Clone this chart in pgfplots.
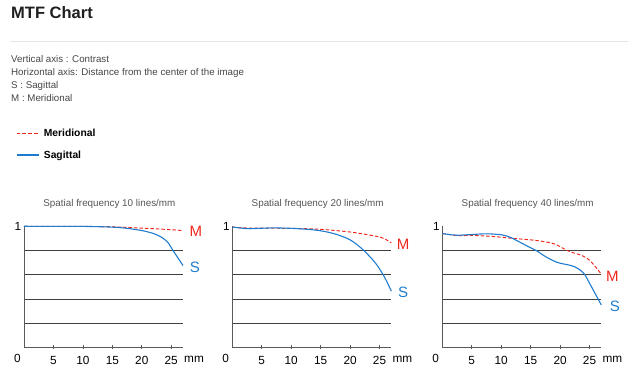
\documentclass[border=0pt]{standalone}
\usepackage{pgfplots}
\pgfplotsset{compat=1.18}
\usepackage{fontspec}
\setmainfont{Liberation Sans}
\definecolor{mred}{RGB}{240,38,28}
\definecolor{mblue}{RGB}{30,124,206}
\definecolor{txtgray}{RGB}{70,70,70}
\definecolor{ttlgray}{RGB}{85,85,85}
\pgfplotsset{
  mtf/.style={
    scale only axis, width=159pt, height=121pt,
    xmin=0, xmax=27, ymin=0, ymax=1,
    axis x line=bottom, axis y line=left,
    axis line style={-, draw=black!65, line width=0.8pt},
    xtick={5,10,15,20,25}, xticklabels={5,10,15,20,25},
    tick align=center, major tick length=4pt,
    xtick style={draw=black!65, line width=0.6pt},
    ytick={0.2,0.4,0.6,0.8}, yticklabels={}, ytick style={draw=none},
    ymajorgrids, grid style={draw=black!75, line width=0.7pt},
    xticklabel style={font=\fontsize{11.8}{11.8}\selectfont, anchor=base, yshift=-15.5pt, inner sep=0pt},
    clip=false,
  },
  S/.style={mblue, line width=1.1pt, smooth},
  M/.style={mred, line width=0.95pt, dash pattern=on 3.5pt off 2pt, smooth},
}
\begin{document}
\begin{tikzpicture}
\useasboundingbox (0,0) rectangle (635pt,-379pt);
% header
\node[anchor=base west, inner sep=0pt, font=\fontsize{16.5}{16.5}\bfseries\selectfont, text=black!88] at (11pt,-18.3pt) {MTF Chart};
\draw[black!10, line width=0.6pt] (10pt,-41pt) -- (628pt,-41pt);
\begin{scope}[every node/.style={anchor=base west, inner sep=0pt, font=\fontsize{9.75}{9.75}\selectfont, text=txtgray}]
\node at (11pt,-62.3pt) {Vertical axis : Contrast};
\node at (11pt,-75.3pt) {Horizontal axis: Distance from the center of the image};
\node at (11pt,-88.6pt) {S : Sagittal};
\node at (11pt,-101.9pt) {M : Meridional};
\end{scope}
\fill[mred] (16.5pt,-132.7pt) rectangle (20.1pt,-133.9pt);
\fill[mred] (22.3pt,-132.7pt) rectangle (25.9pt,-133.9pt);
\fill[mred] (28.1pt,-132.7pt) rectangle (31.7pt,-133.9pt);
\fill[mred] (33.9pt,-132.7pt) rectangle (37.5pt,-133.9pt);
\fill[mblue] (16.5pt,-154.4pt) rectangle (39pt,-155.6pt);
\node[anchor=base west, inner sep=0pt, font=\fontsize{10.3}{10.3}\bfseries\selectfont] at (43.7pt,-137pt) {Meridional};
\node[anchor=base west, inner sep=0pt, font=\fontsize{10.3}{10.3}\bfseries\selectfont] at (43.7pt,-158.7pt) {Sagittal};

% ---- panel 1
\begin{axis}[mtf, at={(24pt,-347.3pt)}, anchor=south west]
\addplot[M] coordinates {(0,1.0) (10,0.999) (15,0.996) (20,0.985) (25,0.972) (27,0.964)};
\addplot[S] coordinates {(0,1.0) (10,0.999) (15,0.993) (17.5,0.983) (20,0.965) (22,0.94) (23.5,0.905) (24.5,0.862) (25.3,0.8) (26.2,0.735) (27,0.675)};
\node[anchor=base, inner sep=0pt, font=\fontsize{11.8}{11.8}\selectfont] at (axis cs:0,0) [xshift=-6.7pt, yshift=-15.5pt] {0};
\node[anchor=base west, inner sep=0pt, font=\fontsize{11.8}{11.8}\selectfont] at (axis cs:27,0) [xshift=1pt, yshift=-15.5pt] {mm};
\node[anchor=base, inner sep=0pt, font=\fontsize{11.8}{11.8}\selectfont] at (axis cs:0,1) [xshift=-6pt, yshift=-4.5pt] {1};
\node[anchor=base, inner sep=0pt, font=\fontsize{9.85}{9.85}\selectfont, text=ttlgray] at (axis cs:14.5,1) [yshift=20pt] {Spatial frequency 10 lines/mm};
\node[mred, font=\fontsize{15}{15}\selectfont, inner sep=0pt] at (axis cs:29.2,0.961) {M};
\node[mblue, font=\fontsize{15}{15}\selectfont, inner sep=0pt] at (axis cs:29.0,0.664) {S};
\end{axis}

% ---- panel 2
\begin{axis}[mtf, at={(232.3pt,-347.3pt)}, anchor=south west]
\addplot[M] coordinates {(0,0.994) (3,0.985) (10,0.983) (15,0.975) (20,0.953) (23,0.93) (25,0.912) (26,0.893) (27,0.863)};
\addplot[S] coordinates {(0,0.994) (1.5,0.985) (3,0.98) (5,0.984) (7,0.987) (10,0.983) (12.5,0.976) (15,0.963) (17.5,0.936) (20,0.888) (22,0.815) (24,0.715) (25,0.648) (26,0.566) (27,0.465)};
\node[anchor=base, inner sep=0pt, font=\fontsize{11.8}{11.8}\selectfont] at (axis cs:0,0) [xshift=-6.7pt, yshift=-15.5pt] {0};
\node[anchor=base west, inner sep=0pt, font=\fontsize{11.8}{11.8}\selectfont] at (axis cs:27,0) [xshift=1pt, yshift=-15.5pt] {mm};
\node[anchor=base, inner sep=0pt, font=\fontsize{11.8}{11.8}\selectfont] at (axis cs:0,1) [xshift=-6pt, yshift=-4.5pt] {1};
\node[anchor=base, inner sep=0pt, font=\fontsize{9.85}{9.85}\selectfont, text=ttlgray] at (axis cs:14.5,1) [yshift=20pt] {Spatial frequency 20 lines/mm};
\node[mred, font=\fontsize{15}{15}\selectfont, inner sep=0pt] at (axis cs:29.0,0.849) {M};
\node[mblue, font=\fontsize{15}{15}\selectfont, inner sep=0pt] at (axis cs:29.0,0.458) {S};
\end{axis}

% ---- panel 3
\begin{axis}[mtf, at={(442.3pt,-347.3pt)}, anchor=south west]
\addplot[M] coordinates {(0,0.94) (1.5,0.93) (3,0.922) (5,0.925) (8,0.918) (10,0.91) (12,0.9) (15,0.888) (17.5,0.872) (19,0.855) (20,0.832) (21,0.805) (22,0.785) (23,0.77) (24,0.752) (25,0.72) (26,0.665) (27,0.605)};
\addplot[S] coordinates {(0,0.94) (1.5,0.93) (2.5,0.926) (5,0.932) (7.5,0.938) (10,0.93) (11.5,0.91) (13,0.873) (14.5,0.835) (16,0.798) (17.5,0.75) (19,0.712) (20,0.695) (21.5,0.68) (22.5,0.665) (23.5,0.635) (24.2,0.6) (25,0.53) (26,0.44) (27,0.35)};
\node[anchor=base, inner sep=0pt, font=\fontsize{11.8}{11.8}\selectfont] at (axis cs:0,0) [xshift=-6.7pt, yshift=-15.5pt] {0};
\node[anchor=base west, inner sep=0pt, font=\fontsize{11.8}{11.8}\selectfont] at (axis cs:27,0) [xshift=1pt, yshift=-15.5pt] {mm};
\node[anchor=base, inner sep=0pt, font=\fontsize{11.8}{11.8}\selectfont] at (axis cs:0,1) [xshift=-6pt, yshift=-4.5pt] {1};
\node[anchor=base, inner sep=0pt, font=\fontsize{9.85}{9.85}\selectfont, text=ttlgray] at (axis cs:14.5,1) [yshift=20pt] {Spatial frequency 40 lines/mm};
\node[mred, font=\fontsize{15}{15}\selectfont, inner sep=0pt] at (axis cs:28.9,0.587) {M};
\node[mblue, font=\fontsize{15}{15}\selectfont, inner sep=0pt] at (axis cs:29.3,0.339) {S};
\end{axis}
\end{tikzpicture}
\end{document}
